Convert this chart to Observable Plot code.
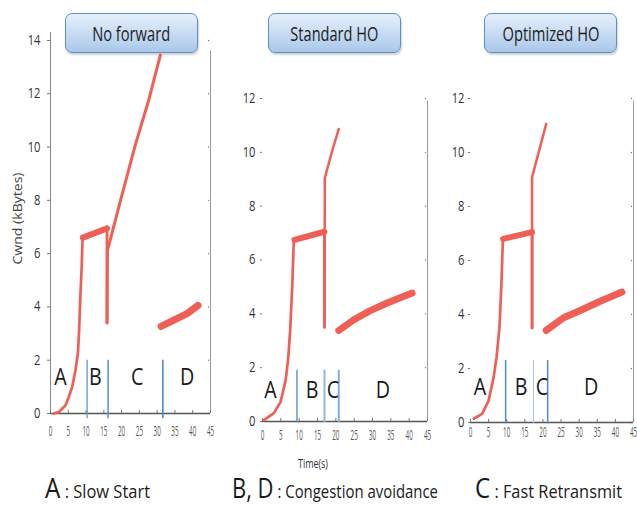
<!DOCTYPE html>
<html><head><meta charset="utf-8">
<script src="https://cdn.jsdelivr.net/npm/d3@7"></script>
<script src="https://cdn.jsdelivr.net/npm/@observablehq/plot@0.6"></script>
<style>
body{margin:0;background:#fff;}
#wrap{position:relative;width:637px;height:505px;font-family:"Open Sans",sans-serif;background:#fff;}
.panel{position:absolute;top:0;}
.box{position:absolute;top:13px;height:40px;width:133px;box-sizing:border-box;border:1.5px solid #5b8fcb;border-radius:7px;background:linear-gradient(#e6f0fb,#aac8ea);box-shadow:1px 2px 2px rgba(0,0,0,0.18);display:flex;align-items:center;justify-content:center;z-index:5;}
.box span{font-size:20px;color:#1e1e1e;display:inline-block;white-space:nowrap;transform-origin:center;}
.lbl{position:absolute;white-space:nowrap;transform-origin:left top;color:#1a1a1a;z-index:5;line-height:1.2;}
</style></head><body><div id="wrap"></div>
<script>
// ---------- data ----------
const xTicks = [0,5,10,15,20,25,30,35,40,45];
const yTicks14 = [0,2,4,6,8,10,12,14];
const yTicks12 = [0,2,4,6,8,10,12];
const phaseLetters = ["A","B","C","D"];
const titles = ["No forward","Standard HO","Optimized HO"];

// Panel 1: No forward  [time s, cwnd kBytes]
const nfSlowStart = [[0.9,0.0],[2.3,0.05],[4.2,0.3],[5.1,0.6],[6.1,1.0],[7.0,1.6],[7.7,2.25],[8.05,3.1],[8.4,4.4],[8.8,5.6],[9.0,6.5],[9.1,6.6]];
const nfAvoid1 = [[9.1,6.6],[15.9,6.95]];
const nfDrop = [[15.9,6.95],[15.9,3.4]];
const nfRecover = [[15.9,3.4],[16.0,6.1],[19.7,8.0],[23.9,10.1],[27.6,11.75],[30.9,13.45]];
const nfAvoid2 = [[31.1,3.27],[34.6,3.5],[38.4,3.75],[41.5,4.06]];
const nfPhaseX = [10.3,16.2,31.6];
const nfLetterX = [2.8,12.6,24.4,38.4];

// Panel 2: Standard HO
const stSlowStart = [[0.4,0.05],[3.1,0.31],[4.9,0.72],[6.3,1.52],[7.0,2.33],[7.6,3.5],[8.1,4.99],[8.5,6.6],[8.7,6.75]];
const stAvoid1 = [[8.7,6.75],[16.9,7.05]];
const stDrop = [[16.9,7.05],[16.9,3.5]];
const stRecover = [[16.9,3.5],[17.0,9.05],[19.0,10.05],[20.8,10.87]];
const stAvoid2 = [[20.8,3.38],[24.9,3.78],[29.4,4.12],[34.0,4.4],[40.8,4.77]];
const stPhaseX = [9.4,16.9,20.8];
const stLetterX = [2.2,13.5,19.2,32.8];

// Panel 3: Optimized HO
const opSlowStart = [[0.9,0.14],[3.2,0.32],[5.0,0.81],[6.4,1.68],[7.2,2.42],[8.0,3.53],[8.5,5.01],[8.9,6.6],[9.0,6.8]];
const opAvoid1 = [[9.0,6.8],[17.0,7.05]];
const opDrop = [[17.0,7.05],[17.0,3.5]];
const opRecover = [[17.0,3.5],[17.0,9.09],[20.9,11.06]];
const opAvoid2 = [[20.9,3.41],[25.7,3.88],[30.3,4.15],[35.8,4.49],[41.8,4.83]];
const opPhaseX = [9.7,17.4,21.3];
const opLetterX = [2.6,14.0,19.7,33.3];

// ---------- drawing ----------
const RED = "#ef5f56";
const wrap = document.getElementById("wrap");

function squeeze(svg, sel, f){
  svg.querySelectorAll(sel).forEach(t=>{
    const w = t.getComputedTextLength();
    if (w>0){ t.setAttribute("textLength", (w*f).toFixed(2)); t.setAttribute("lengthAdjust","spacingAndGlyphs"); }
  });
}

function makePanel(o){
  const pt = d=>d[0], pv = d=>d[1];
  const marks = [
    Plot.ruleX([45], {y1:0, y2:o.rightTop, stroke:"#9a9a9a", strokeWidth:1}),
    Plot.dot(o.yTicks, {x:45, y:d=>d, r:0.7, dx:-2, fill:"#777"}),
    Plot.ruleY([0], {x1:0, x2:45, stroke:"#555", strokeWidth:1.4}),
    Plot.axisX({ticks:xTicks, tickSize:-3, tickPadding:o.xPad, fontSize:14, fill:"#555", stroke:"#777", label:null}),
    Plot.axisY({ticks:o.yTicks, tickSize:o.yTick, tickPadding:o.yPad, fontSize:14, fill:"#333", stroke:"#777", label:null}),
    Plot.ruleX(o.phaseX, {x:d=>d, y1:o.phaseBottom, y2:o.phaseTop, stroke:(d,i)=>o.phaseColors[i], strokeWidth:(d,i)=>o.phaseWidths[i]}),
    Plot.line(o.slow, {x:pt, y:pv, stroke:RED, strokeWidth:2.7}),
    Plot.line(o.avoid1, {x:pt, y:pv, stroke:RED, strokeWidth:6}),
    Plot.line(o.drop, {x:pt, y:pv, stroke:RED, strokeWidth:2.8}),
    Plot.line(o.recover, {x:pt, y:pv, stroke:RED, strokeWidth:o.recW}),
    Plot.line(o.avoid2, {x:pt, y:pv, stroke:RED, strokeWidth:7}),
    Plot.text(phaseLetters, {x:(d,i)=>o.letterX[i], y:o.letterY, text:d=>d, fontSize:24, fill:"#1a1a1a", fontFamily:"Open Sans"})
  ];
  if (o.leftSpine) marks.unshift(Plot.ruleX([0], {y1:0, y2:o.leftSpine, stroke:"#888", strokeWidth:1}));
  const svg = Plot.plot({
    width:o.width, height:445,
    marginLeft:o.ml, marginRight:o.mr, marginTop:o.mt, marginBottom:o.mb,
    x:{domain:[0,45]}, y:{domain:[0,o.yMax]},
    style:{fontFamily:"Open Sans", background:"transparent", overflow:"visible"},
    marks
  });
  svg.classList.add("panel");
  svg.style.left = o.left + "px";
  wrap.appendChild(svg);
  squeeze(svg, 'g[aria-label="x-axis tick label"] text', 0.45);
  squeeze(svg, 'g[aria-label="y-axis tick label"] text', 0.8);
  squeeze(svg, 'g[aria-label="text"] text', 0.82);
}

makePanel({left:0, width:215, ml:50, mr:5, mt:40, mb:32, yMax:14, yTicks:yTicks14, yTick:3, yPad:7, xPad:16,
  rightTop:13.6, leftSpine:14.3,
  slow:nfSlowStart, avoid1:nfAvoid1, drop:nfDrop, recover:nfRecover, avoid2:nfAvoid2, recW:3,
  phaseX:nfPhaseX, phaseBottom:-0.2, phaseTop:2.0, phaseColors:["#5b9bd5","#5b9bd5","#4a8ad0"], phaseWidths:[1.3,1.6,1.6],
  letterX:nfLetterX, letterY:1.36});
makePanel({left:220, width:212, ml:42, mr:5, mt:98, mb:24, yMax:12, yTicks:yTicks12, yTick:2, yPad:5, xPad:12,
  rightTop:11.9,
  slow:stSlowStart, avoid1:stAvoid1, drop:stDrop, recover:stRecover, avoid2:stAvoid2, recW:2.5,
  phaseX:stPhaseX, phaseBottom:-0.05, phaseTop:1.9, phaseColors:["#4a8ad0","#8db7e2","#7eaedf"], phaseWidths:[1.3,2,2],
  letterX:stLetterX, letterY:1.15});
makePanel({left:432, width:204, ml:38, mr:3, mt:98, mb:23, yMax:12, yTicks:yTicks12, yTick:2, yPad:4, xPad:8,
  rightTop:11.9,
  slow:opSlowStart, avoid1:opAvoid1, drop:opDrop, recover:opRecover, avoid2:opAvoid2, recW:2.5,
  phaseX:opPhaseX, phaseBottom:-0.05, phaseTop:2.3, phaseColors:["#4a8ad0","#a9c9ea","#4a8ad0"], phaseWidths:[1.5,1,1.5],
  letterX:opLetterX, letterY:1.3});

// ---------- html text ----------
const boxLefts = [65,268,484], boxTextW = [78,88,97];
titles.forEach((t,i)=>{
  const b = document.createElement("div"); b.className="box"; b.style.left = boxLefts[i]+"px";
  const s = document.createElement("span"); s.textContent = t; b.appendChild(s); wrap.appendChild(b);
  const w = s.getBoundingClientRect().width; s.style.transform = `scaleX(${boxTextW[i]/w})`;
});

function label(html, x, y, w, size){
  const d = document.createElement("div"); d.className="lbl"; d.innerHTML = html;
  d.style.left = x+"px"; d.style.top = y+"px"; d.style.fontSize = size+"px";
  wrap.appendChild(d);
  const nw = d.getBoundingClientRect().width; d.style.transform = `scaleX(${w/nw})`;
  return d;
}
label("Time(s)", 298, 457, 30, 12).style.color = "#333";
label('<span style="font-size:28px">A</span> : Slow Start', 45, 471, 105, 19);
label('<span style="font-size:28px">B, D</span> : Congestion avoidance', 232, 471, 206, 19);
label('<span style="font-size:28px">C</span> : Fast Retransmit', 475, 471, 147, 19);

// rotated y label (centred at x=18, y=218)
const yl = document.createElement("div");
yl.textContent = "Cwnd (kBytes)";
yl.style.cssText = "position:absolute;display:inline-block;white-space:nowrap;font-size:12.5px;line-height:1.2;color:#444;left:0;top:0;transform-origin:center center;";
wrap.appendChild(yl);
const r = yl.getBoundingClientRect();
yl.style.left = (18 - r.width/2) + "px"; yl.style.top = (218 - r.height/2) + "px";
yl.style.transform = `rotate(-90deg) scaleX(${92/r.width})`;
</script></body></html>
